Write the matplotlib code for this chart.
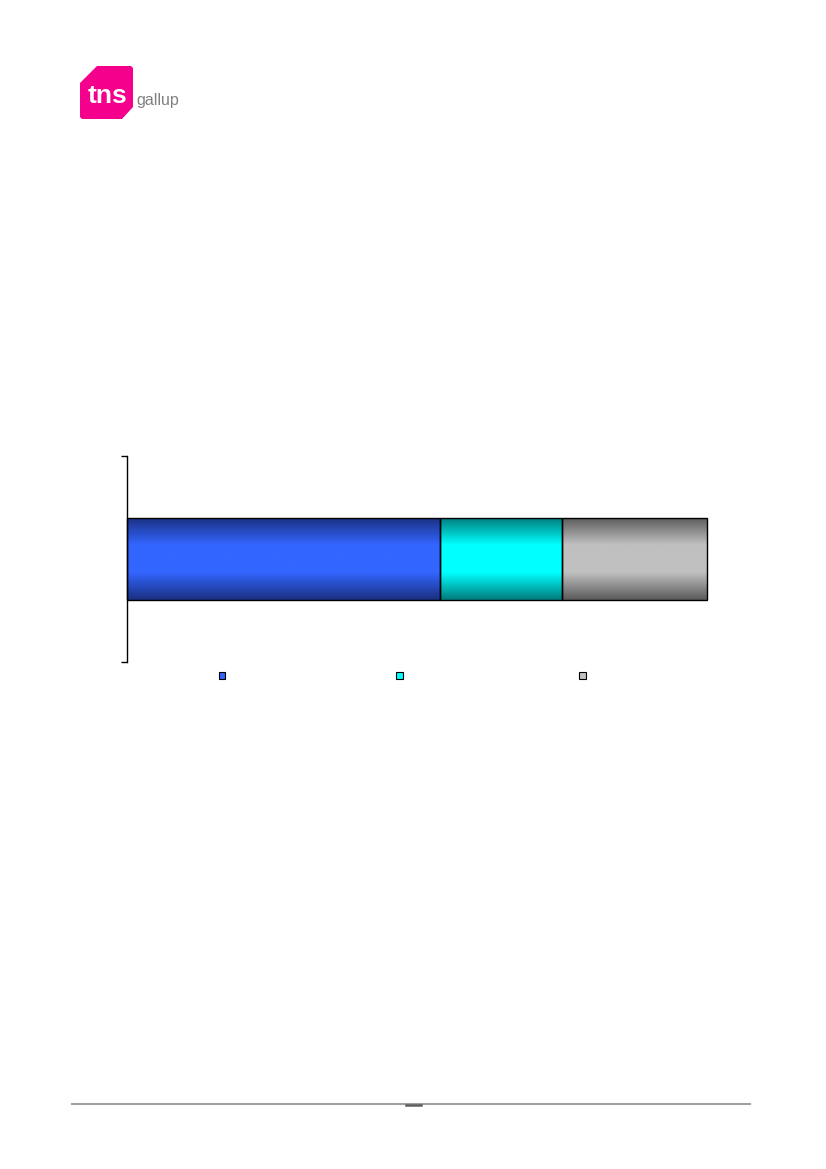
import numpy as np
import matplotlib.pyplot as plt
from matplotlib.patches import Polygon, Rectangle
from matplotlib.colors import LinearSegmentedColormap
from matplotlib.lines import Line2D

# data (share of the bar, %)
series = ['', '', '']
values = [54, 21, 25]
edge_colors = ['#1a2f80', '#007a7a', '#5a5a5a']
mid_colors = ['#3366ff', '#00ffff', '#c0c0c0']

W, H = 826, 1169
fig = plt.figure(figsize=(W / 100, H / 100), dpi=100)


def fx(px):
    return px / W


def fy(py):
    return 1 - py / H


# logo
pts = [(97, 66), (131, 66), (133, 68), (133, 107), (122, 119),
       (82, 119), (80, 117), (80, 83)]
fig.add_artist(Polygon([(fx(x), fy(y)) for x, y in pts], closed=True,
                       transform=fig.transFigure, facecolor='#f5008c',
                       edgecolor='none'))
fig.text(fx(108), fy(96), 'tns', color='white', fontsize=19, fontweight='bold',
         ha='center', va='center', family='Liberation Sans')
fig.text(fx(136), fy(100), 'gallup', color='#808080', fontsize=11.5,
         ha='left', va='center', family='Liberation Sans')

# chart
ax = fig.add_axes([fx(127), fy(662), fx(707) - fx(127), fy(456) - fy(662)])
bar_h = 0.4
left = 0
for v, ec, mc, name in zip(values, edge_colors, mid_colors, series):
    bar = ax.barh(0, v, left=left, height=bar_h, facecolor='none',
                  edgecolor='black', linewidth=1, label=name, zorder=3)[0]
    bar.set_clip_on(False)
    cmap = LinearSegmentedColormap.from_list('g', [ec, mc, mc, ec])
    grad = np.linspace(0, 1, 256).reshape(-1, 1)
    im = ax.imshow(grad, cmap=cmap, aspect='auto', zorder=2,
                   extent=[left, left + v, -bar_h / 2, bar_h / 2],
                   origin='lower')
    im.set_clip_path(bar)
    left += v

ax.set_xlim(0, sum(values))
ax.set_ylim(-0.5, 0.5)
ax.set_yticks([-0.5, 0.5])
ax.set_yticklabels([])
ax.tick_params(axis='y', direction='out', length=4, width=1)
ax.set_xticks([])
for s in ['top', 'right', 'bottom']:
    ax.spines[s].set_visible(False)
ax.spines['left'].set_linewidth(1)

# legend squares
leg_x = [222, 399, 582]
for x, mc in zip(leg_x, mid_colors):
    fig.add_artist(Rectangle((fx(x - 3.5), fy(679)), 7 / W, 7 / H,
                             transform=fig.transFigure, facecolor=mc,
                             edgecolor='black', linewidth=0.8))

# footer rule
fig.add_artist(Line2D([fx(72), fx(750)], [fy(1104), fy(1104)],
                      transform=fig.transFigure, color='#a0a0a0', linewidth=1.5))
fig.add_artist(Line2D([fx(406), fx(421)], [fy(1104.5), fy(1104.5)],
                      transform=fig.transFigure, color='#606060', linewidth=1.8))

fig.savefig('out.png', dpi=100)
